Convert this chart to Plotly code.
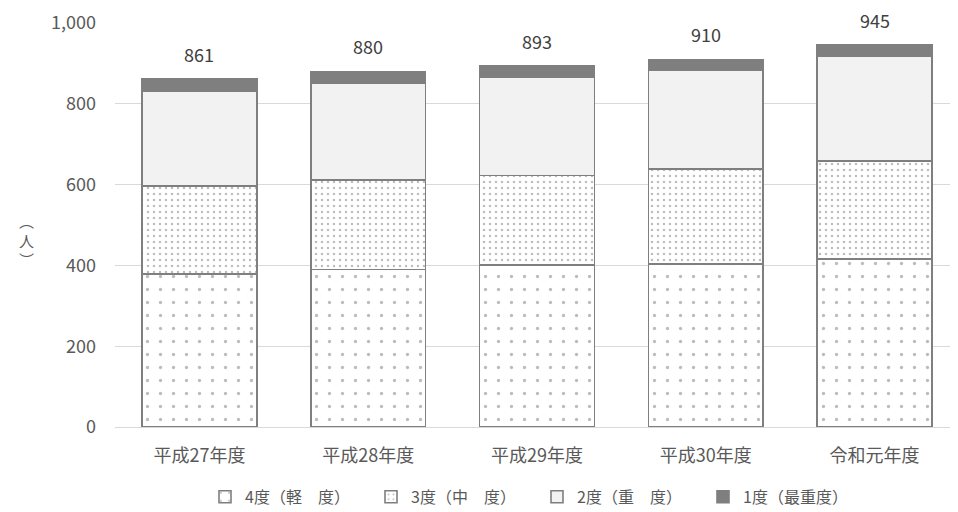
import plotly.graph_objects as go

categories = ["平成27年度", "平成28年度", "平成29年度", "平成30年度", "令和元年度"]
grade4 = [379, 390, 401, 403, 416]
grade3 = [218, 222, 222, 236, 243]
grade2 = [235, 240, 244, 245, 260]
grade1 = [29, 28, 26, 26, 26]
totals = [861, 880, 893, 910, 945]
series_names = ["4度（軽　度）", "3度（中　度）", "2度（重　度）", "1度（最重度）"]
y_ticks = [0, 200, 400, 600, 800, 1000]
y_ticklabels = ["0", "200", "400", "600", "800", "1,000"]

FONT = "'Noto Sans CJK JP', 'Noto Sans', sans-serif"
OUTLINE = dict(color="#7f7f7f", width=1.6)

fig = go.Figure()
fig.add_trace(go.Bar(
    x=categories, y=grade4, name=series_names[0],
    marker=dict(color="white", line=OUTLINE,
                pattern=dict(shape=".", size=13, solidity=0.05,
                             fgcolor="#7a7a7a", bgcolor="white", fillmode="overlay")),
))
fig.add_trace(go.Bar(
    x=categories, y=grade3, name=series_names[1],
    marker=dict(color="white", line=OUTLINE,
                pattern=dict(shape=".", size=6, solidity=0.13,
                             fgcolor="#7a7a7a", bgcolor="white", fillmode="overlay")),
))
fig.add_trace(go.Bar(
    x=categories, y=grade2, name=series_names[2],
    marker=dict(color="#f2f2f2", line=OUTLINE),
))
fig.add_trace(go.Bar(
    x=categories, y=grade1, name=series_names[3],
    marker=dict(color="#7f7f7f", line=OUTLINE),
))

for c, t in zip(categories, totals):
    fig.add_annotation(x=c, y=t, text=f"{t:,}", showarrow=False,
                       yanchor="bottom", yshift=10,
                       font=dict(size=18, color="#404040", family=FONT))

fig.add_annotation(xref="paper", yref="paper", x=-0.105, y=0.463,
                   xanchor="center", yanchor="middle",
                   text="︵<br>人<br>︶", showarrow=False,
                   font=dict(size=15, color="#595959", family=FONT))

fig.update_layout(
    width=958, height=512,
    margin=dict(l=107, r=7, t=15, b=93, autoexpand=False),
    barmode="stack", bargap=0.32,
    plot_bgcolor="white", paper_bgcolor="white",
    font=dict(family=FONT, color="#595959", size=18),
    showlegend=True,
    legend=dict(orientation="h", x=0.5, xanchor="center", y=-0.173, yanchor="middle",
                font=dict(size=16, color="#595959"), traceorder="normal",
                itemwidth=30, entrywidth=121, entrywidthmode="pixels"),
    xaxis=dict(showgrid=False, showline=False, ticks="", tickfont=dict(size=18),
               ticklabelstandoff=16),
    yaxis=dict(range=[0, 1000], tickvals=y_ticks, ticktext=y_ticklabels,
               showgrid=True, gridcolor="#d9d9d9", gridwidth=1,
               zeroline=True, zerolinecolor="#d9d9d9", zerolinewidth=1,
               showline=False, ticks="", tickfont=dict(size=18), ticklabelstandoff=18),
)

fig.write_html("out.html")
